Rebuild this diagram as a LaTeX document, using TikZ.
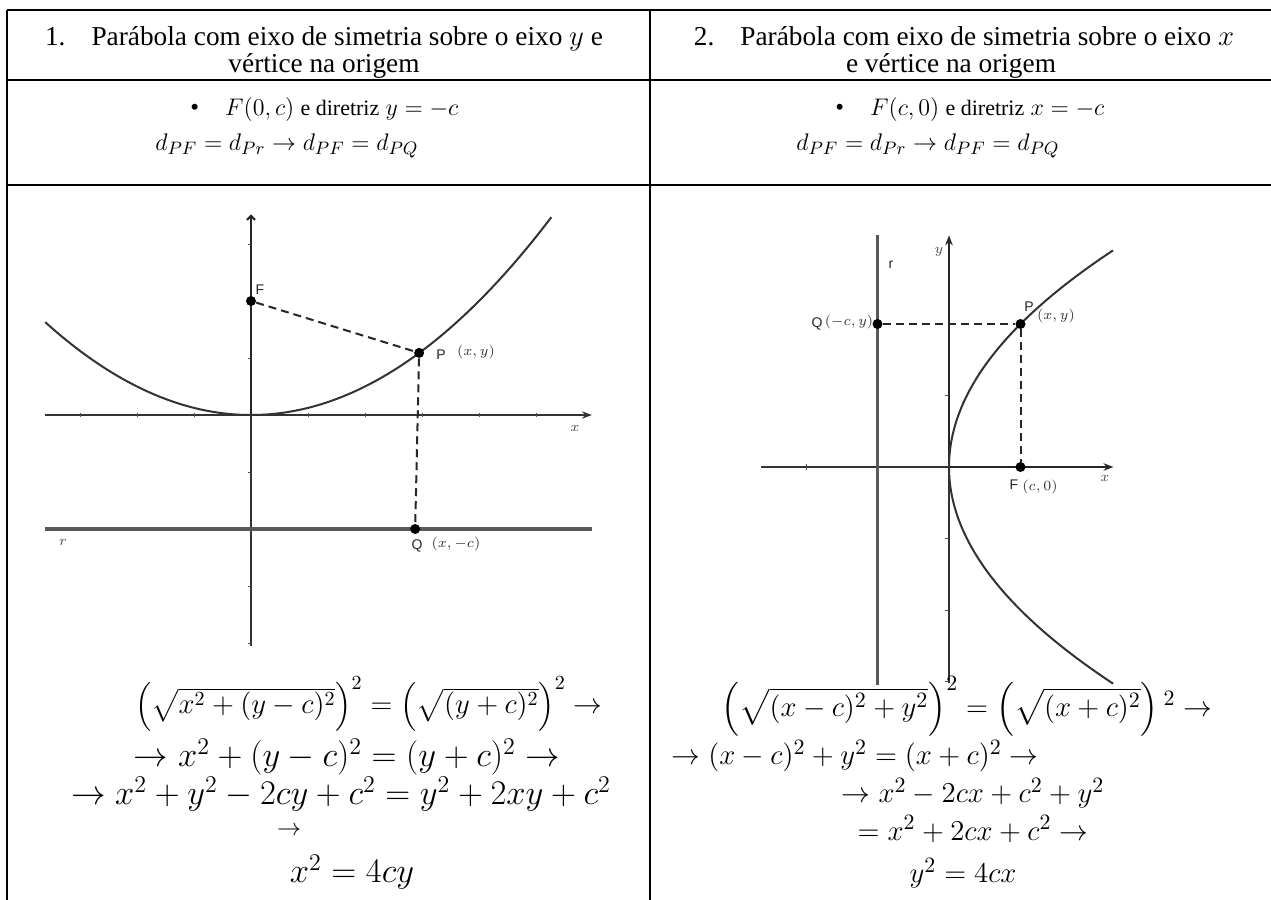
\documentclass[tikz,border=0pt]{standalone}
\usepackage{amsmath,amssymb}
\usepackage{fontspec}
\setmainfont{Liberation Serif}
\setsansfont{Liberation Sans}
\usepackage{tikz}
\usetikzlibrary{arrows.meta}
\tikzset{
  tableline/.style={line width=1pt, black},
  headtext/.style={font=\fontsize{13.65}{13.5}\selectfont, inner sep=0pt, align=center},
  mathtext/.style={font=\fontsize{12.5}{14}\selectfont, inner sep=0pt},
  eqtext/.style={font=\fontsize{16.5}{18}\selectfont, inner sep=0pt},
  eqright/.style={font=\fontsize{15.5}{17}\selectfont, inner sep=0pt},
  eqwide/.style={font=\fontsize{13.6}{16}\selectfont, inner sep=0pt},
  axisline/.style={line width=0.6pt, black!80},
  axisbold/.style={line width=1.1pt, black!85},
  curve/.style={line width=1pt, black!80},
  directrix/.style={line width=1.6pt, black!65},
  dashline/.style={line width=1pt, black!85, dash pattern=on 4pt off 2.5pt},
  ptdot/.style={circle, fill=black, inner sep=0pt, minimum size=5pt},
  ptlabel/.style={font=\sffamily\fontsize{7}{8}\selectfont, inner sep=0pt, text=black!85},
  coordlabel/.style={font=\fontsize{7.5}{8}\selectfont, inner sep=0pt, text=black!80},
  axislabel/.style={font=\fontsize{7}{8}\selectfont, inner sep=0pt, text=black!70},
  tickmark/.style={line width=0.4pt, black!70}
}

\begin{document}
\begin{tikzpicture}[x=0.5pt, y=-0.5pt]
\fill[white] (0,0) rectangle (1271,900);
\useasboundingbox (0,0) rectangle (1271,900);

% Table frame
\draw[tableline] (7,10) -- (1271,10);
\draw[tableline] (7,80) -- (1271,80);
\draw[tableline] (7,185) -- (1271,185);
\draw[tableline] (7,10) -- (7,900);
\draw[tableline] (650,10) -- (650,900);

% Header row
\node[headtext, anchor=north] (h1) at (324,26) {1.\hspace{13pt}Parábola com eixo de simetria sobre o eixo $y$ e\\ vértice na origem};
\node[headtext, anchor=north] (h2) at (964,26) {2.\hspace{13pt}Parábola com eixo de simetria sobre o eixo $x$\\ e vértice na origem\hspace*{13pt}};

% Focus and directrix row
\node[mathtext, anchor=base west] (b1) at (190,115) {\textbullet\hspace{13pt}$F(0,c)$ {\fontsize{11}{13}\selectfont e diretriz} $y=-c$};
\node[mathtext, anchor=base west] (d1) at (155,150) {$d_{PF}=d_{Pr}\to d_{PF}=d_{PQ}$};
\node[mathtext, anchor=base west] (b2) at (835,115) {\textbullet\hspace{13pt}$F(c,0)$ {\fontsize{11}{13}\selectfont e diretriz} $x=-c$};
\node[mathtext, anchor=base west] (d2) at (796,150) {$d_{PF}=d_{Pr}\to d_{PF}=d_{PQ}$};

% Graph 1: x^2 = 4cy
\begin{scope}[shift={(251,415)}, x=28.5pt, y=28.5pt]
  \draw[axisline, -{Stealth[length=5pt]}] (-3.61,0) -- (5.98,0);
  \draw[axisline] (0,-4.05) -- (0,0);
  \draw[axisbold, -{Straight Barb[length=2pt]}] (0,0) -- (0,3.52);
  \foreach \t in {-3,-2,-1,1,2,3,4,5}
    \draw[tickmark] (\t,0.04) -- (\t,-0.04);
  \foreach \t in {-4,-3,-2,-1,1,2,3}
    \draw[tickmark] (-0.06,\t) -- (0,\t);
  \draw[directrix] (-3.61,-2) -- (5.98,-2);
  \draw[curve, domain=-3.61:5.27, samples=100] plot (\x,{\x*\x/8});
  \node[ptdot] (F1) at (0,2) {};
  \node[ptdot] (P1) at (2.95,1.09) {};
  \node[ptdot] (Q1) at (2.88,-2) {};
  \draw[dashline] (F1) -- (P1);
  \draw[dashline] (P1) -- (Q1);
\end{scope}
\node[ptlabel] (F1lab) at (260,290) {F};
\node[ptlabel] (P1lab) at (441,355) {P};
\node[coordlabel] (P1xy) at (476,352) {$(x,y)$};
\node[ptlabel] (Q1lab) at (417,546) {Q};
\node[coordlabel] (Q1xy) at (456,544) {$(x,-c)$};
\node[axislabel] (x1lab) at (575,428) {$x$};
\node[axislabel] (r1lab) at (63,542) {$r$};

% Graph 2: y^2 = 4cx
\begin{scope}[shift={(949,467)}, x=35.75pt, y=35.75pt]
  \draw[axisline] (-2.63,0) -- (0,0);
  \draw[axisbold, -{Stealth[length=5pt]}] (0,0) -- (2.3,0);
  \draw[axisline] (0,-3.02) -- (0,0);
  \draw[axisbold, -{Stealth[length=5pt]}] (0,0) -- (0,3.24);
  \draw[tickmark] (-2,0.04) -- (-2,-0.04);
  \foreach \t in {-3,-2,-1,1}
    \draw[tickmark] (-0.05,\t) -- (0,\t);
  \draw[directrix] (-1,-3.05) -- (-1,3.24);
  \draw[curve, variable=\t, domain=-3.03:3.03, samples=100] plot ({\t*\t/4},\t);
  \node[ptdot] (F2) at (1,0) {};
  \node[ptdot] (P2) at (1,2) {};
  \node[ptdot] (Q2) at (-1,2) {};
  \draw[dashline] (Q2) -- (P2);
  \draw[dashline] (P2) -- (F2);
\end{scope}
\node[axislabel] (y2lab) at (939,252) {$y$};
\node[ptlabel] (r2lab) at (891,265) {r};
\node[axislabel] (x2lab) at (1105,478) {$x$};
\node[ptlabel] (Q2lab) at (817,324) {Q};
\node[coordlabel] (Q2xy) at (849,322) {$(-c,y)$};
\node[ptlabel] (P2lab) at (1029,307) {P};
\node[coordlabel] (P2xy) at (1056,316) {$(x,y)$};
\node[ptlabel] (F2lab) at (1014,485) {F};
\node[coordlabel] (F2xy) at (1040,487) {$(c,0)$};

% Derivation 1
\node[eqwide] (e1a) at (369,704) {$\left(\sqrt{x^2+(y-c)^2}\right)^2=\left(\sqrt{(y+c)^2}\right)^2\to$};
\node[eqtext] (e1b) at (347,757) {$\to x^2+(y-c)^2=(y+c)^2\to$};
\node[eqtext] (e1c) at (341,794) {$\to x^2+y^2-2cy+c^2=y^2+2xy+c^2$};
\node[mathtext] (e1d) at (289,831) {$\to$};
\node[eqtext] (e1e) at (352,872) {$x^2=4cy$};

% Derivation 2
\node[eqwide, font=\fontsize{15}{17}\selectfont] (e2a) at (967,706) {$\left(\sqrt{(x-c)^2+y^2}\right)^2=\left(\sqrt{(x+c)^2}\right){}^2\to$};
\node[eqright] (e2b) at (855,756) {$\to(x-c)^2+y^2=(x+c)^2\to$};
\node[eqright] (e2c) at (973,793) {$\to x^2-2cx+c^2+y^2$};
\node[eqright] (e2d) at (973,829) {$=x^2+2cx+c^2\to$};
\node[eqright] (e2e) at (963,873) {$y^2=4cx$};
\end{tikzpicture}
\end{document}
